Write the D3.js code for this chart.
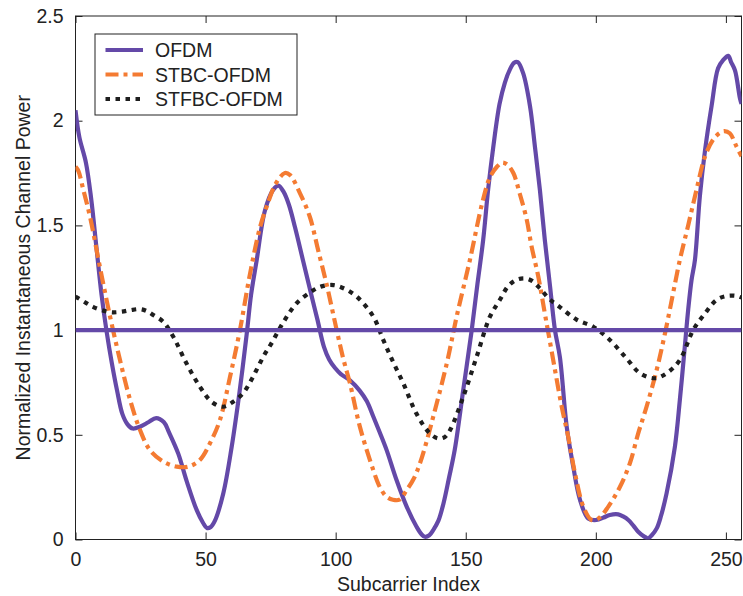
<!DOCTYPE html>
<html>
<head>
<meta charset="utf-8">
<script src="https://cdn.jsdelivr.net/npm/d3@7"></script>
<style>
  body { margin: 0; background: #fff; }
  text { font-family: "Liberation Sans", Arial, sans-serif; fill: #222; }
</style>
</head>
<body>
<div id="chart"></div>
<script>
// subcarrier index / normalized power
var ofdmX = [0, 1.5, 4, 6, 8, 10, 12, 14, 16, 18, 20, 22, 25, 28, 31, 34, 36, 39.5, 42.7, 46.6, 49, 50.5, 52, 53.6, 56.8, 60, 63, 65.8, 67.5, 69.6, 72.8, 76, 78, 80, 82, 84.4, 87.5, 90.8, 93, 95.5, 97.5, 99.7, 102, 105.5, 109.3, 112, 114.5, 117, 119.6, 123.4, 127.3, 131.1, 133, 134.3, 136, 137.5, 139.5, 141.4, 143.5, 145.8, 149, 152.3, 154.5, 156.7, 158.6, 160.6, 163, 165, 167, 168.6, 170, 172.1, 174.7, 176.6, 178.5, 180.4, 182.4, 184.3, 186.2, 188.8, 191.3, 193.9, 197.1, 200.3, 203, 205.4, 208.6, 210.5, 212.5, 214.5, 216.3, 218.5, 220.1, 221.5, 223.4, 225, 227.2, 230.4, 232.3, 234.2, 235.5, 236.8, 238.1, 240, 242, 244.5, 247, 249, 250.9, 252, 253.5, 255.4, 256];
var ofdmY = [2.05, 1.92, 1.80, 1.63, 1.40, 1.17, 0.99, 0.84, 0.71, 0.60, 0.55, 0.53, 0.54, 0.56, 0.58, 0.56, 0.51, 0.41, 0.28, 0.14, 0.08, 0.055, 0.06, 0.09, 0.22, 0.44, 0.70, 0.98, 1.17, 1.33, 1.57, 1.67, 1.69, 1.66, 1.60, 1.49, 1.33, 1.16, 1.05, 0.92, 0.86, 0.82, 0.79, 0.76, 0.71, 0.66, 0.586, 0.51, 0.427, 0.284, 0.157, 0.061, 0.025, 0.013, 0.02, 0.045, 0.09, 0.17, 0.29, 0.43, 0.71, 1.0, 1.22, 1.43, 1.67, 1.876, 2.08, 2.18, 2.245, 2.277, 2.28, 2.226, 2.07, 1.876, 1.67, 1.43, 1.21, 1.0, 0.87, 0.54, 0.35, 0.19, 0.10, 0.093, 0.105, 0.117, 0.12, 0.11, 0.093, 0.065, 0.037, 0.015, 0.006, 0.02, 0.053, 0.11, 0.22, 0.443, 0.666, 0.92, 1.096, 1.24, 1.335, 1.64, 1.86, 2.07, 2.25, 2.29, 2.31, 2.28, 2.24, 2.107, 2.08];

var stbcX = [0, 1.1, 3, 5.6, 9.4, 13.3, 17.1, 21, 24.8, 28.6, 33.7, 38.9, 43.4, 47.8, 51.7, 55.5, 59.4, 63.2, 67.1, 70.9, 73.5, 77, 80.5, 82.5, 86.3, 90.1, 93.3, 96.5, 100.4, 103, 105.5, 109.3, 114.5, 117, 119.6, 122, 124.5, 127.3, 130, 132.4, 135, 137.5, 142.7, 146.5, 151.6, 156.4, 159.3, 162, 164, 166, 168.3, 170.8, 173.4, 175.3, 177.9, 180.4, 182, 184.3, 186.9, 189.4, 192, 195.2, 198.4, 201, 204.8, 209.3, 213.1, 216.3, 219.5, 223.4, 226.6, 229.7, 232.3, 235.5, 238.7, 242, 245.1, 247.5, 249.3, 251.5, 254.1, 256];
var stbcY = [1.78, 1.76, 1.67, 1.54, 1.30, 1.064, 0.857, 0.666, 0.523, 0.427, 0.372, 0.348, 0.348, 0.38, 0.46, 0.57, 0.777, 1.0, 1.27, 1.49, 1.59, 1.70, 1.75, 1.74, 1.653, 1.54, 1.38, 1.22, 1.0, 0.86, 0.746, 0.539, 0.33, 0.25, 0.204, 0.19, 0.19, 0.236, 0.29, 0.364, 0.47, 0.586, 0.84, 1.064, 1.335, 1.61, 1.73, 1.78, 1.80, 1.79, 1.75, 1.65, 1.53, 1.40, 1.255, 1.08, 0.97, 0.81, 0.634, 0.49, 0.316, 0.157, 0.093, 0.10, 0.157, 0.252, 0.364, 0.507, 0.634, 0.81, 0.985, 1.176, 1.335, 1.50, 1.67, 1.83, 1.91, 1.94, 1.95, 1.94, 1.876, 1.83];

var stfbcX = [0, 1.1, 4, 6.9, 10.7, 14, 17.8, 21, 24.8, 27.5, 29.9, 33.7, 37.6, 42.7, 47.8, 52.3, 56.8, 60.6, 64.5, 67.5, 70, 72.5, 75, 80, 85, 91.4, 95, 99.1, 103, 108.1, 114.5, 118.3, 122, 126, 131.1, 136.2, 139.4, 142, 144, 149, 154.2, 159.3, 163.1, 166.3, 169.5, 172.8, 175.5, 178.5, 182, 186.2, 192.6, 199, 205.4, 211.8, 217, 222.7, 227.2, 232.3, 237.4, 242, 246.4, 250.3, 254.1, 256];
var stfbcY = [1.16, 1.152, 1.13, 1.11, 1.093, 1.085, 1.088, 1.095, 1.10, 1.09, 1.072, 1.04, 0.968, 0.84, 0.73, 0.658, 0.634, 0.658, 0.70, 0.76, 0.82, 0.88, 0.93, 1.04, 1.128, 1.19, 1.21, 1.215, 1.20, 1.16, 1.064, 0.953, 0.85, 0.746, 0.60, 0.507, 0.483, 0.49, 0.523, 0.68, 0.873, 1.064, 1.144, 1.21, 1.24, 1.247, 1.235, 1.2, 1.15, 1.11, 1.05, 1.016, 0.953, 0.865, 0.794, 0.77, 0.794, 0.857, 1.0, 1.08, 1.144, 1.163, 1.163, 1.155];

var meanLevel = 1;
var seriesNames = ["OFDM", "STBC-OFDM", "STFBC-OFDM"];
var xTicks = [0, 50, 100, 150, 200, 250];
var yTicks = [0, 0.5, 1, 1.5, 2, 2.5];

var width = 743,
    height = 596;
var margin = {left: 75.5, top: 16, right: 1.5, bottom: 56.5};
var w = width - margin.left - margin.right,
    h = height - margin.top - margin.bottom;

var svg = d3.select("#chart")
    .append("svg")
    .attr("width", width)
    .attr("height", height);

var x = d3.scaleLinear().domain([0, 256]).range([margin.left, margin.left + w]);
var y = d3.scaleLinear().domain([0, 2.5]).range([margin.top + h, margin.top]);

var styles = [
    {color: "#6449a8", dash: null},
    {color: "#f47b32", dash: "13,5,4,5"},
    {color: "#1e1e1e", dash: "4.5,5.5"}
];

var series = [
    d3.zip(ofdmX, ofdmY),
    d3.zip(stbcX, stbcY),
    d3.zip(stfbcX, stfbcY)
];

svg.append("clipPath").attr("id", "clip")
    .append("rect")
    .attr("x", margin.left).attr("y", margin.top)
    .attr("width", w).attr("height", h);

// axes with inward ticks, box like matlab
var fontSize = "19.5px";
svg.append("g")
    .attr("transform", "translate(0," + (margin.top + h) + ")")
    .call(d3.axisBottom(x).tickValues(xTicks).tickSize(-7).tickPadding(13).tickFormat(d3.format("d")))
    .call(function (g) {
        g.select(".domain").remove();
        g.selectAll("text").style("font-size", fontSize).attr("fill", "#222");
        g.selectAll("line").attr("stroke", "#222");
    });
svg.append("g")
    .attr("transform", "translate(0," + margin.top + ")")
    .call(d3.axisTop(x).tickValues(xTicks).tickSize(-7).tickFormat(""))
    .call(function (g) {
        g.select(".domain").remove();
        g.selectAll("line").attr("stroke", "#222");
    });
svg.append("g")
    .attr("transform", "translate(" + margin.left + ",0)")
    .call(d3.axisLeft(y).tickValues(yTicks).tickSize(-7).tickPadding(12).tickFormat(d3.format("")))
    .call(function (g) {
        g.select(".domain").remove();
        g.selectAll("text").style("font-size", fontSize).attr("fill", "#222");
        g.selectAll("line").attr("stroke", "#222");
    });
svg.append("g")
    .attr("transform", "translate(" + (margin.left + w) + ",0)")
    .call(d3.axisRight(y).tickValues(yTicks).tickSize(-7).tickFormat(""))
    .call(function (g) {
        g.select(".domain").remove();
        g.selectAll("line").attr("stroke", "#222");
    });

svg.append("rect")
    .attr("x", margin.left).attr("y", margin.top)
    .attr("width", w).attr("height", h)
    .attr("fill", "none")
    .attr("stroke", "#222")
    .attr("stroke-width", 1);

var line = d3.line()
    .x(function (d) { return x(d[0]); })
    .y(function (d) { return y(d[1]); })
    .curve(d3.curveCatmullRom);

var plot = svg.append("g").attr("clip-path", "url(#clip)");

plot.selectAll("path.series")
    .data(series)
    .enter()
    .append("path")
    .attr("class", "series")
    .attr("d", line)
    .attr("fill", "none")
    .attr("stroke", function (d, i) { return styles[i].color; })
    .attr("stroke-width", 4.2)
    .attr("stroke-dasharray", function (d, i) { return styles[i].dash; })
    .attr("stroke-linejoin", "round");

plot.append("path")
    .datum(x.domain().map(function (v) { return [v, meanLevel]; }))
    .attr("d", d3.line().x(function (d) { return x(d[0]); }).y(function (d) { return y(d[1]); }))
    .attr("fill", "none")
    .attr("stroke", styles[0].color)
    .attr("stroke-width", 4.2);

// axis titles
svg.append("text")
    .attr("x", margin.left + w / 2)
    .attr("y", 591)
    .attr("text-anchor", "middle")
    .style("font-size", fontSize)
    .text("Subcarrier Index");

svg.append("text")
    .attr("transform", "translate(30," + (margin.top + h / 2) + ") rotate(-90)")
    .attr("text-anchor", "middle")
    .style("font-size", fontSize)
    .text("Normalized Instantaneous Channel Power");

// legend
var legend = svg.append("g");
legend.append("rect")
    .attr("x", 95).attr("y", 34)
    .attr("width", 202).attr("height", 81)
    .attr("fill", "#fff")
    .attr("stroke", "#222")
    .attr("stroke-width", 1);

var rows = legend.selectAll("g.row")
    .data(seriesNames)
    .enter()
    .append("g")
    .attr("class", "row")
    .attr("transform", function (d, i) { return "translate(0," + (50 + i * 24.5) + ")"; });

rows.append("line")
    .attr("x1", 105.5).attr("x2", 143)
    .attr("stroke", function (d, i) { return styles[i].color; })
    .attr("stroke-width", 4.2)
    .attr("stroke-dasharray", function (d, i) { return styles[i].dash; });

rows.append("text")
    .attr("x", 155)
    .attr("y", 7)
    .style("font-size", fontSize)
    .text(function (d) { return d; });
</script>
</body>
</html>
